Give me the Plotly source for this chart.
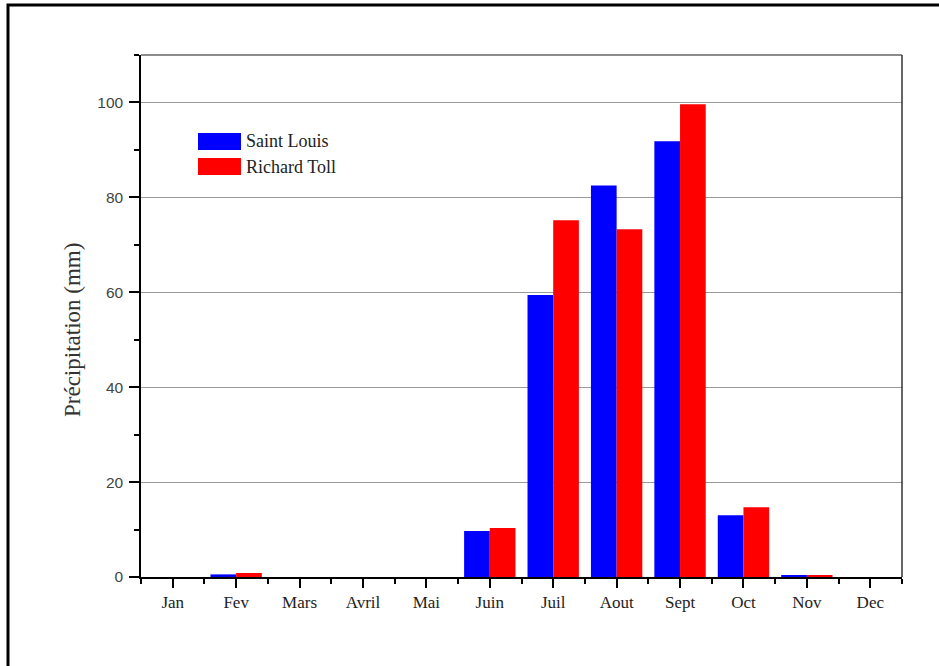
import plotly.graph_objects as go

months = ["Jan", "Fev", "Mars", "Avril", "Mai", "Juin", "Juil", "Aout", "Sept", "Oct", "Nov", "Dec"]
saint_louis = [0, 0.55, 0, 0, 0, 9.7, 59.4, 82.5, 91.8, 13.0, 0.25, 0]
richard_toll = [0, 0.85, 0, 0, 0, 10.3, 75.2, 73.3, 99.6, 14.7, 0.25, 0]
series_names = ["Saint Louis", "Richard Toll"]
series_colors = ["#0000FF", "#FF0000"]
y_ticks = [0, 20, 40, 60, 80, 100]
y_title = "Précipitation (mm)"

xpos = list(range(1, len(months) + 1))

fig = go.Figure()
for name, vals, col in zip(series_names, [saint_louis, richard_toll], series_colors):
    fig.add_trace(go.Bar(x=xpos, y=vals, name=name, marker=dict(color=col, line=dict(width=0)),
                         showlegend=False))

W, H = 939, 666
L, R, T, B = 141, 37, 55, 89
pw, ph = W - L - R, H - T - B

def px(xp):
    return (xp - L) / pw

def py(yp):
    return (H - B - yp) / ph

serif = "Liberation Serif, Times New Roman, serif"

fig.update_layout(
    width=W, height=H,
    margin=dict(l=L, r=R, t=T, b=B),
    paper_bgcolor="white", plot_bgcolor="white",
    barmode="group", bargap=0.19, bargroupgap=0,
    xaxis=dict(
        range=[0.5, 12.5], tickvals=xpos, ticktext=months,
        showgrid=False, zeroline=False,
        showline=True, linecolor="black", linewidth=1.5,
        ticks="outside", ticklen=9, tickwidth=1.5, tickcolor="black",
        tickfont=dict(family=serif, size=17, color="#222"),
        minor=dict(tickvals=[i + 0.5 for i in range(0, 13)], ticks="outside", ticklen=5,
                   tickwidth=1.5, tickcolor="black", showgrid=False),
    ),
    yaxis=dict(
        range=[0, 110], tickvals=y_ticks,
        showgrid=True, gridcolor="#9a9a9a", gridwidth=1,
        zeroline=False,
        showline=True, linecolor="black", linewidth=1.5,
        ticks="outside", ticklen=10, tickwidth=1.5, tickcolor="black",
        tickfont=dict(family="Liberation Sans, Arial, sans-serif", size=15.5, color="#444"),
        ticklabelstandoff=3,
        minor=dict(tickvals=[10, 30, 50, 70, 90, 110], ticks="outside", ticklen=5,
                   tickwidth=1.5, tickcolor="black", showgrid=False),
    ),
)

fig.add_annotation(xref="paper", yref="paper", x=px(72), y=py(330), text=y_title,
                   textangle=-90, showarrow=False, xanchor="center", yanchor="middle",
                   font=dict(family=serif, size=23, color="#333"))

shapes = [
    dict(type="line", xref="paper", yref="paper", x0=0, x1=1, y0=1, y1=1,
         line=dict(color="#666", width=1.5)),
    dict(type="line", xref="paper", yref="paper", x0=1, x1=1, y0=0, y1=1,
         line=dict(color="#333", width=1.5)),
    dict(type="rect", xref="paper", yref="paper", x0=px(8), x1=px(960), y0=py(690), y1=py(5),
         line=dict(color="black", width=3), fillcolor="rgba(0,0,0,0)", layer="above"),
]
leg_y = [141.5, 166.5]
for name, col, yc in zip(series_names, series_colors, leg_y):
    shapes.append(dict(type="rect", xref="paper", yref="paper", x0=px(198), x1=px(241),
                       y0=py(yc + 8.5), y1=py(yc - 8.5), fillcolor=col, line=dict(width=0)))
    fig.add_annotation(xref="paper", yref="paper", x=px(244), y=py(yc), text=name,
                       showarrow=False, xanchor="left", yanchor="middle",
                       font=dict(family=serif, size=18, color="#222"))
fig.update_layout(shapes=shapes)

fig.write_html("out.html", config=dict(displayModeBar=False),
               post_script="document.body.style.margin='0';document.body.style.overflow='hidden';")
